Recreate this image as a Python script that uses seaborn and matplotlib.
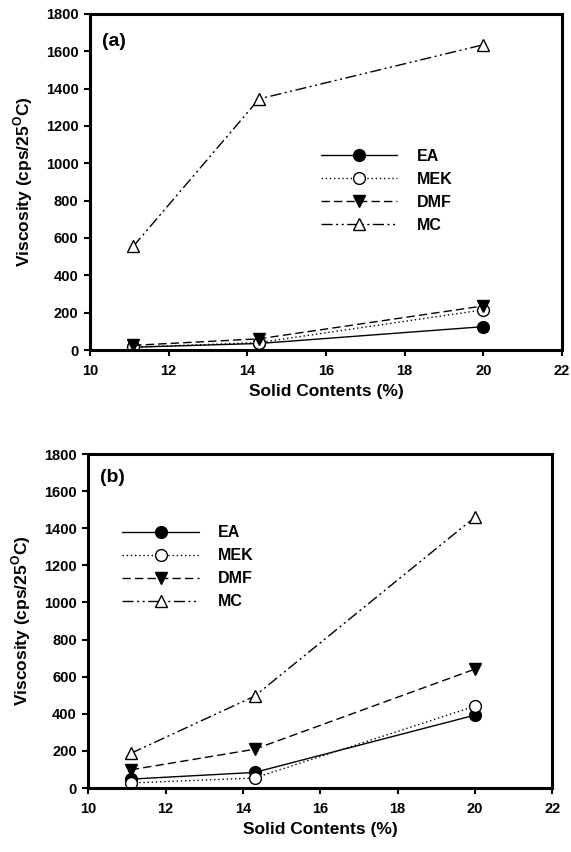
import seaborn as sns
import matplotlib.pyplot as plt
import pandas as pd

solid = [11.1, 14.3, 20.0]
solvents = ["EA", "MEK", "DMF", "MC"]

# panel (a)
visc_a = {
    "EA": [15, 35, 125],
    "MEK": [15, 40, 215],
    "DMF": [25, 60, 236],
    "MC": [555, 1345, 1635],
}
# panel (b)
visc_b = {
    "EA": [48, 84, 393],
    "MEK": [27, 54, 441],
    "DMF": [98, 209, 641],
    "MC": [187, 495, 1460],
}

sns.set_style("ticks")
plt.rcParams["font.family"] = ["Liberation Sans", "DejaVu Sans"]
plt.rcParams["font.weight"] = "bold"
plt.rcParams["mathtext.fontset"] = "custom"
plt.rcParams["mathtext.bf"] = "Liberation Sans:bold"
plt.rcParams["mathtext.rm"] = "Liberation Sans:bold"
for k in ["text.color", "axes.labelcolor", "xtick.color", "ytick.color", "axes.edgecolor"]:
    plt.rcParams[k] = "black"

styles = {
    "EA": dict(marker="o", mfc="black", dashes=None),
    "MEK": dict(marker="o", mfc="white", dashes=(1, 2)),
    "DMF": dict(marker="v", mfc="black", dashes=(6, 3)),
    "MC": dict(marker="^", mfc="white", dashes=(8, 2.5, 1.5, 2.5, 1.5, 2.5)),
}

fig = plt.figure(figsize=(5.71, 8.52), dpi=100)
ax_a = fig.add_axes([0.1576, 0.5892, 0.8266, 0.3944])
ax_b = fig.add_axes([0.1547, 0.0751, 0.8126, 0.3920])


def draw(ax, data, tag, tag_pos, leg_pos):
    for s in solvents:
        df = pd.DataFrame({"x": solid, "y": data[s]})
        st = styles[s]
        sns.lineplot(data=df, x="x", y="y", ax=ax, color="black", lw=1.0,
                     marker=st["marker"], markersize=8.5, markerfacecolor=st["mfc"],
                     markeredgecolor="black", markeredgewidth=1.0, label=s)
        if st["dashes"] is not None:
            ax.lines[-1].set_dashes(st["dashes"])
    ax.set_xlim(10, 22)
    ax.set_ylim(0, 1800)
    ax.set_xticks(range(10, 23, 2))
    ax.set_yticks(range(0, 1801, 200))
    ax.set_xlabel("Solid Contents (%)", fontsize=12.5, fontweight="bold", labelpad=4)
    ax.set_ylabel(r"Viscosity (cps/25$^\mathbf{O}$C)", fontsize=12.5, fontweight="bold",
                  labelpad=8)
    for sp in ax.spines.values():
        sp.set_linewidth(2.2)
        sp.set_visible(True)
    ax.tick_params(axis="x", direction="out", width=1.5, length=4.3, labelsize=10.5, pad=6)
    ax.tick_params(axis="y", direction="out", width=1.5, length=4.3, labelsize=10.5, pad=4)
    for t in ax.get_xticklabels() + ax.get_yticklabels():
        t.set_fontweight("bold")
    ax.text(tag_pos[0], tag_pos[1], tag, transform=ax.transAxes, fontsize=14,
            fontweight="bold", va="center", ha="left")
    ax.legend(loc="upper left", bbox_to_anchor=leg_pos, frameon=False, borderpad=0,
              borderaxespad=0, handlelength=4.8, numpoints=1,
              prop={"weight": "bold", "size": 11.5}, handletextpad=1.2,
              labelspacing=0.5)


draw(ax_a, visc_a, "(a)", (0.025, 0.917), (0.489, 0.598))
draw(ax_b, visc_b, "(b)", (0.026, 0.931), (0.073, 0.787))

fig.savefig("out.png", dpi=100)
